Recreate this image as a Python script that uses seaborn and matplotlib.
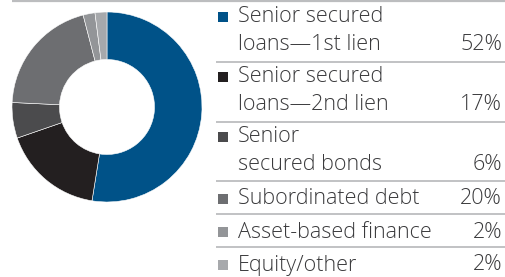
import numpy as np
import matplotlib.pyplot as plt
import seaborn as sns

## data
categories = ['Senior secured\nloans\u20141st lien',
              'Senior secured\nloans\u20142nd lien',
              'Senior\nsecured bonds',
              'Subordinated debt',
              'Asset-based finance',
              'Equity/other']
shares = [52, 17, 6, 20, 2, 2]
share_labels = ['52%', '17%', '6%', '20%', '2%', '2%']
colors = ['#005288', '#231f20', '#4b4b4d', '#6d6e71', '#939598', '#a7a9ac']

sns.set_theme(style='white')
plt.rcParams['font.family'] = ['Open Sans', 'DejaVu Sans']

W, H = 505, 277
fig = plt.figure(figsize=(W / 100, H / 100), dpi=100)

## layout axes in pixel coords
lax = fig.add_axes([0, 0, 1, 1])
lax.set_xlim(0, W)
lax.set_ylim(H, 0)
lax.axis('off')

## donut
ax = fig.add_axes([12 / W, 1 - 202 / H, 190 / W, 190 / H])
ax.pie(shares, colors=colors, startangle=90, counterclock=False, radius=1,
       wedgeprops=dict(width=0.5, linewidth=0.4, edgecolor='white'))
ax.set_xlim(-1, 1)
ax.set_ylim(-1, 1)
ax.set_aspect('equal')
ax.axis('off')

## custom legend
line_col = '#bcbdbf'
text_col = '#3a3a3c'
lax.plot([12, W], [0.8, 0.8], color=line_col, lw=1.6, solid_capstyle='butt')

first_line_y = [17, 77, 137, 199, 232, 265]
sep_y = [61.5, 121.5, 181, 214, 247]
line_gap = 27

for i, (lab, pct, c) in enumerate(zip(categories, share_labels, colors)):
    y0 = first_line_y[i]
    lax.scatter([223], [y0 - 0.5], marker='s', s=55, color=c, linewidths=0)
    lines = lab.split('\n')
    for j, ln in enumerate(lines):
        lax.text(238, y0 + j * line_gap, ln, fontsize=15.5, color=text_col,
                 va='center', ha='left', fontweight='light')
    lax.text(502, y0 + (len(lines) - 1) * line_gap, pct, fontsize=15.5,
             color=text_col, va='center', ha='right', fontweight='light')

for y in sep_y:
    lax.plot([216, W], [y, y], color=line_col, lw=1.3, solid_capstyle='butt')

plt.savefig('out.png', dpi=100)
